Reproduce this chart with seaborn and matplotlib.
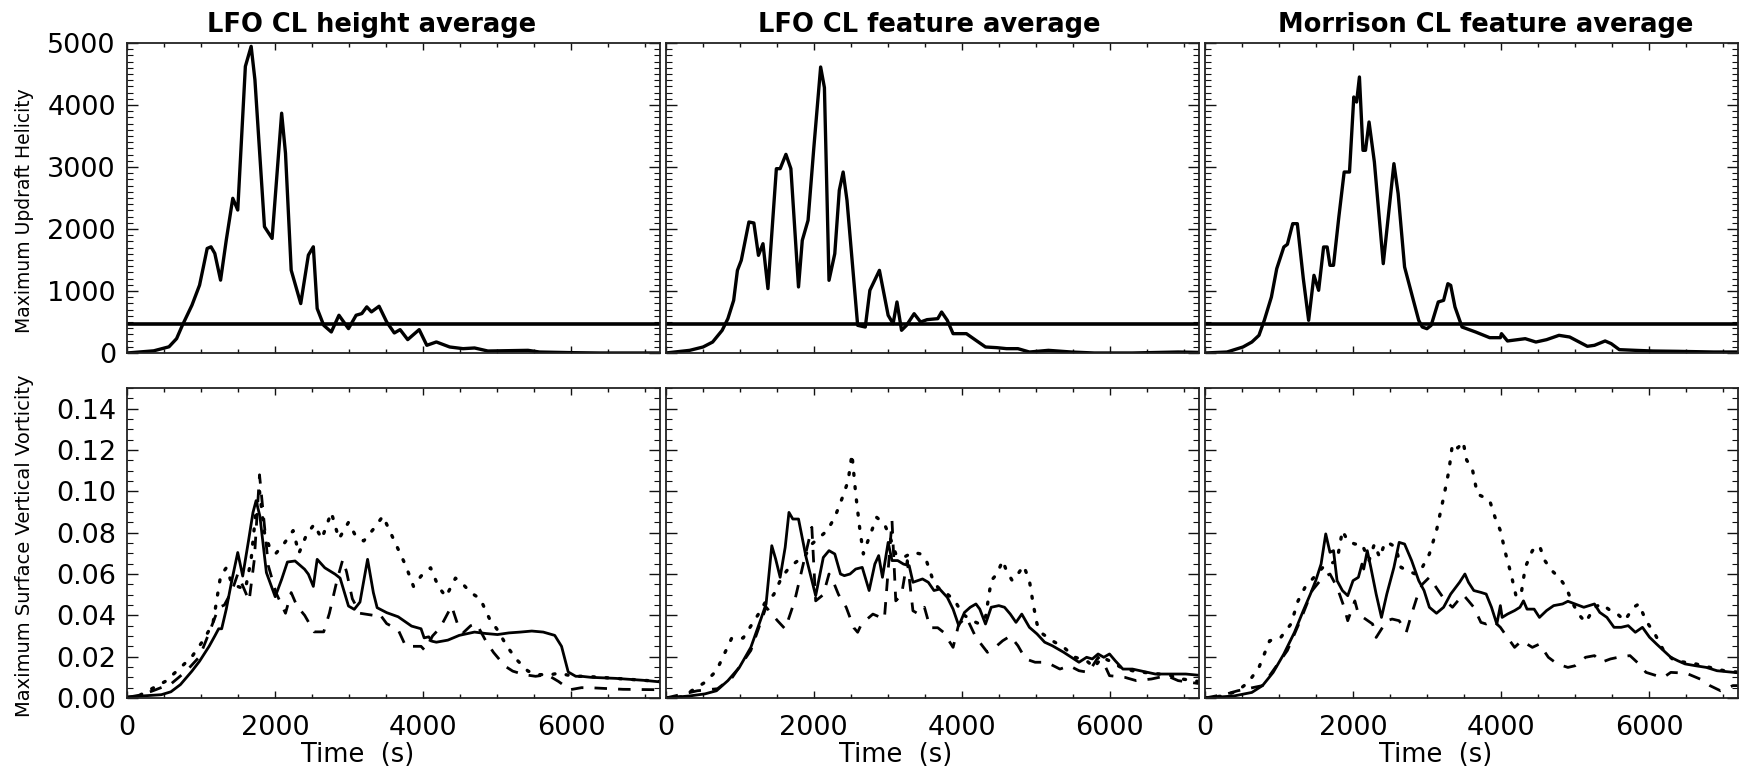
import matplotlib
matplotlib.use("Agg")
import matplotlib.pyplot as plt
from matplotlib.ticker import MultipleLocator, FormatStrFormatter
import seaborn as sns
import pandas as pd

# ---------------- data ----------------
titles = ["LFO CL height average", "LFO CL feature average", "Morrison CL feature average"]
ylabel_top = "Maximum Updraft Helicity"
ylabel_bot = "Maximum Surface Vertical Vorticity"
xlabel = "Time  (s)"
uh_threshold = 460

# Updraft helicity (top row)
uh1_t = [0, 361, 567, 670, 748, 877, 980, 1032, 1083, 1135, 1186, 1264, 1341, 1429, 1496, 1599, 1677, 1728,
         1857, 1960, 2089, 2141, 2218, 2347, 2450, 2517, 2569, 2657, 2760, 2863, 2992, 3095, 3172, 3239, 3302,
         3405, 3508, 3611, 3689, 3792, 3947, 4050, 4179, 4359, 4540, 4695, 4875, 5417, 5572, 6036, 6386, 7200]
uh1_v = [0, 35, 100, 232, 447, 770, 1094, 1390, 1686, 1713, 1606, 1175, 1821, 2495, 2306, 4623, 4946, 4407,
         2037, 1848, 3868, 3222, 1336, 797, 1579, 1713, 717, 447, 339, 609, 393, 609, 636, 744, 663,
         754, 501, 323, 377, 216, 377, 124, 178, 97, 70, 81, 32, 43, 16, 5, 0, 0]

uh2_t = [0, 325, 505, 634, 763, 840, 918, 969, 1021, 1124, 1191, 1253, 1314, 1381, 1495, 1546, 1624, 1691,
         1794, 1845, 1923, 2000, 2093, 2144, 2206, 2284, 2345, 2397, 2449, 2593, 2696, 2758, 2887, 3005, 3072,
         3124, 3186, 3253, 3356, 3443, 3531, 3675, 3727, 3804, 3882, 4062, 4191, 4320, 4474, 4603, 4758, 4913,
         5170, 5480, 5789, 6305, 6923, 7200]
uh2_v = [0, 43, 97, 177, 366, 554, 849, 1333, 1495, 2113, 2097, 1575, 1763, 1038, 2973, 2973, 3204, 2973,
         1065, 1817, 2140, 3296, 4613, 4280, 1172, 1602, 2624, 2919, 2462, 446, 419, 1011, 1333, 608, 473,
         823, 366, 446, 634, 500, 538, 554, 661, 527, 312, 312, 204, 97, 86, 70, 70, 16,
         43, 16, 0, 0, 16, 10]

uh3_t = [0, 297, 513, 633, 729, 801, 897, 969, 1065, 1113, 1185, 1247, 1328, 1400, 1472, 1535, 1602, 1650,
         1688, 1736, 1808, 1880, 1952, 2010, 2048, 2086, 2134, 2168, 2216, 2288, 2408, 2480, 2552, 2609, 2696,
         2815, 2887, 2935, 2998, 3055, 3151, 3223, 3281, 3319, 3377, 3472, 3655, 3846, 3990, 4005, 4086, 4326,
         4470, 4614, 4782, 4926, 5165, 5261, 5405, 5487, 5597, 5813, 6053, 6388, 6868, 7200]
uh3_v = [0, 16, 97, 177, 285, 527, 903, 1360, 1710, 1753, 2086, 2086, 1199, 527, 1253, 1011, 1710, 1710,
         1414, 1414, 2194, 2919, 2919, 4129, 4048, 4452, 3269, 3269, 3726, 3081, 1441, 2247, 3054, 2570, 1387,
         849, 527, 419, 392, 446, 823, 849, 1118, 1091, 742, 419, 339, 247, 247, 312, 194, 231,
         177, 215, 285, 258, 108, 124, 194, 151, 54, 43, 32, 27, 16, 16]

# Surface vertical vorticity (bottom row): solid, dotted, dashed series
v1s_t = [0, 464, 593, 722, 877, 980, 1109, 1186, 1238, 1279, 1341, 1419, 1496, 1563, 1641, 1702, 1744, 1795,
         1883, 2002, 2089, 2167, 2270, 2399, 2450, 2517, 2569, 2672, 2812, 2879, 2992, 3070, 3147, 3250, 3328,
         3379, 3508, 3663, 3844, 3972, 4014, 4076, 4117, 4179, 4334, 4488, 4694, 4849, 5004, 5159, 5314, 5468,
         5623, 5778, 5870, 5960, 6062, 6139, 6268, 6600, 7000, 7200]
v1s_v = [0.0005, 0.0016, 0.003, 0.0065, 0.013, 0.0178, 0.025, 0.030, 0.0335, 0.0335, 0.043, 0.0574, 0.0704,
         0.059, 0.076, 0.0898, 0.0955, 0.088, 0.0607, 0.049, 0.0574, 0.0658, 0.0663, 0.0623, 0.0599, 0.054,
         0.0671, 0.063, 0.0599, 0.058, 0.0445, 0.0429, 0.0464, 0.0671, 0.051, 0.0437, 0.0413, 0.0393, 0.0348,
         0.0335, 0.0291, 0.0296, 0.0275, 0.027, 0.028, 0.0303, 0.0319, 0.0312, 0.0307, 0.0315, 0.0319, 0.0324,
         0.0319, 0.0303, 0.025, 0.0126, 0.0105, 0.0105, 0.010, 0.0095, 0.0085, 0.0078]
v1d_t = [0, 155, 516, 697, 877, 1032, 1161, 1264, 1341, 1420, 1599, 1677, 1754, 1790, 1857, 1935, 2012, 2100,
         2244, 2322, 2425, 2528, 2631, 2760, 2863, 2992, 3095, 3198, 3328, 3457, 3560, 3663, 3766, 3870, 3972,
         4101, 4205, 4308, 4437, 4540, 4643, 4772, 4901, 5004, 5133, 5262, 5417, 5572, 5726, 5829, 6036, 6191,
         6600, 7200]
v1d_v = [0, 0.001, 0.008, 0.0138, 0.020, 0.028, 0.036, 0.059, 0.063, 0.055, 0.0526, 0.067, 0.095, 0.100,
         0.080, 0.072, 0.070, 0.0736, 0.081, 0.070, 0.079, 0.084, 0.077, 0.0898, 0.077, 0.085, 0.078, 0.076,
         0.0817, 0.088, 0.080, 0.072, 0.064, 0.054, 0.059, 0.063, 0.054, 0.049, 0.058, 0.055, 0.051, 0.048,
         0.038, 0.033, 0.025, 0.0186, 0.013, 0.0113, 0.0113, 0.012, 0.0105, 0.0105, 0.0095, 0.008]
v1a_t = [0, 206, 387, 600, 800, 980, 1109, 1238, 1315, 1420, 1496, 1650, 1720, 1790, 1909, 2012, 2141, 2218,
         2296, 2400, 2528, 2657, 2734, 2837, 2915, 2966, 3044, 3147, 3328, 3405, 3508, 3663, 3766, 3972, 4024,
         4127, 4230, 4385, 4463, 4540, 4643, 4720, 4849, 4952, 5107, 5211, 5365, 5520, 5675, 5829, 5984, 6139,
         6294, 6700, 7200]
v1a_v = [0.0003, 0.0016, 0.004, 0.007, 0.013, 0.020, 0.0315, 0.0437, 0.045, 0.052, 0.060, 0.047, 0.067, 0.108,
         0.064, 0.051, 0.041, 0.051, 0.0445, 0.040, 0.032, 0.032, 0.041, 0.057, 0.067, 0.061, 0.048, 0.041,
         0.040, 0.041, 0.036, 0.033, 0.025, 0.025, 0.023, 0.030, 0.034, 0.0445, 0.036, 0.0315, 0.035, 0.036,
         0.0275, 0.022, 0.0154, 0.013, 0.0113, 0.0105, 0.0113, 0.008, 0.004, 0.005, 0.0049, 0.0042, 0.004]

v2s_t = [0, 325, 531, 686, 840, 995, 1150, 1278, 1356, 1433, 1485, 1546, 1614, 1665, 1717, 1794, 1897, 1964,
         2026, 2129, 2206, 2284, 2361, 2413, 2490, 2567, 2655, 2748, 2825, 2877, 2928, 3005, 3057, 3134, 3212,
         3289, 3340, 3469, 3547, 3624, 3701, 3804, 3882, 3959, 4036, 4114, 4191, 4243, 4320, 4397, 4500, 4577,
         4655, 4732, 4810, 4913, 5016, 5119, 5222, 5377, 5480, 5583, 5686, 5763, 5841, 5918, 5995, 6073, 6176,
         6305, 6408, 6614, 6820, 7026, 7200]
v2s_v = [0, 0.001, 0.002, 0.0035, 0.0084, 0.0148, 0.0245, 0.0374, 0.0455, 0.0737, 0.0673, 0.0584, 0.0729,
         0.0898, 0.0866, 0.0866, 0.068, 0.0584, 0.0495, 0.068, 0.0713, 0.0697, 0.060, 0.0592, 0.060, 0.0624,
         0.0632, 0.052, 0.0648, 0.0689, 0.0584, 0.0753, 0.0665, 0.0665, 0.0648, 0.064, 0.056, 0.0576, 0.056,
         0.052, 0.0527, 0.0487, 0.043, 0.035, 0.0414, 0.0439, 0.0455, 0.043, 0.0358, 0.0439, 0.0447, 0.0439,
         0.0406, 0.0366, 0.0406, 0.0342, 0.031, 0.027, 0.0253, 0.0221, 0.0197, 0.0173, 0.0197, 0.0189, 0.0213,
         0.0197, 0.0213, 0.018, 0.014, 0.014, 0.0132, 0.0116, 0.0116, 0.0116, 0.011]
v2d_t = [0, 222, 531, 686, 892, 1046, 1253, 1356, 1459, 1562, 1665, 1768, 1871, 1974, 2077, 2181, 2284, 2387,
         2464, 2516, 2567, 2619, 2670, 2748, 2851, 2954, 3031, 3108, 3212, 3340, 3443, 3521, 3598, 3675, 3804,
         3907, 4011, 4139, 4243, 4320, 4397, 4474, 4552, 4603, 4681, 4758, 4835, 4913, 4964, 5016, 5093, 5222,
         5377, 5531, 5686, 5789, 5892, 5995, 6150, 6305, 6459, 6665, 6820, 6975, 7200]
v2d_v = [0, 0.0006, 0.0076, 0.0132, 0.029, 0.029, 0.0406, 0.047, 0.050, 0.058, 0.063, 0.066, 0.068, 0.0745,
         0.0777, 0.081, 0.0874, 0.097, 0.105, 0.118, 0.0987, 0.0826, 0.0697, 0.0777, 0.0874, 0.0842, 0.0777,
         0.0697, 0.068, 0.0705, 0.0697, 0.0665, 0.0584, 0.0536, 0.0503, 0.047, 0.0406, 0.0374, 0.0358, 0.039,
         0.0568, 0.060, 0.0665, 0.0616, 0.0568, 0.060, 0.064, 0.0568, 0.0455, 0.0358, 0.031, 0.0277, 0.0245,
         0.0197, 0.018, 0.0148, 0.0197, 0.018, 0.0148, 0.0132, 0.0124, 0.0116, 0.0108, 0.0092, 0.008]
v2a_t = [0, 428, 700, 900, 1150, 1356, 1510, 1614, 1742, 1974, 2026, 2129, 2206, 2258, 2335, 2438, 2541, 2593,
         2645, 2799, 2954, 3057, 3108, 3186, 3263, 3340, 3418, 3495, 3572, 3675, 3753, 3882, 3959, 4062, 4191,
         4346, 4449, 4552, 4655, 4758, 4861, 4990, 5145, 5325, 5454, 5583, 5712, 5841, 5944, 5995, 6201, 6356,
         6562, 6768, 6923, 7200]
v2a_v = [0, 0.0035, 0.0045, 0.010, 0.023, 0.044, 0.0374, 0.0334, 0.047, 0.0826, 0.047, 0.050, 0.060, 0.0568,
         0.050, 0.0439, 0.034, 0.0318, 0.0358, 0.0406, 0.0382, 0.0858, 0.047, 0.050, 0.0665, 0.0422, 0.0406,
         0.0439, 0.034, 0.034, 0.0318, 0.0245, 0.0358, 0.039, 0.0293, 0.0221, 0.0245, 0.0277, 0.030, 0.0253,
         0.0189, 0.0173, 0.0173, 0.014, 0.0156, 0.0132, 0.0124, 0.0197, 0.0148, 0.0108, 0.010, 0.0084, 0.0092,
         0.0108, 0.0084, 0.007]

v3s_t = [0, 393, 633, 777, 921, 1065, 1209, 1328, 1424, 1496, 1568, 1631, 1688, 1736, 1784, 1856, 1928, 2000,
         2072, 2120, 2144, 2192, 2240, 2312, 2384, 2456, 2552, 2623, 2696, 2791, 2887, 2959, 3031, 3127, 3223,
         3319, 3439, 3511, 3559, 3631, 3727, 3798, 3870, 3942, 3990, 4014, 4086, 4182, 4254, 4302, 4350, 4446,
         4518, 4614, 4710, 4830, 4902, 4998, 5117, 5189, 5261, 5333, 5429, 5525, 5621, 5717, 5813, 5909, 6005,
         6100, 6196, 6292, 6388, 6484, 6628, 6772, 6916, 7200]
v3s_v = [0, 0.001, 0.0027, 0.006, 0.0124, 0.0213, 0.0318, 0.0423, 0.0503, 0.0568, 0.0648, 0.0794, 0.0705,
         0.0713, 0.0568, 0.052, 0.0495, 0.0568, 0.0584, 0.0648, 0.0624, 0.0713, 0.0632, 0.0503, 0.039, 0.0503,
         0.0632, 0.0753, 0.0745, 0.0665, 0.0568, 0.052, 0.0439, 0.041, 0.0439, 0.0503, 0.056, 0.060, 0.056,
         0.052, 0.0511, 0.0503, 0.0439, 0.0358, 0.0447, 0.039, 0.0406, 0.0423, 0.0439, 0.047, 0.043, 0.043,
         0.039, 0.0423, 0.0447, 0.0455, 0.0468, 0.0455, 0.0439, 0.0447, 0.0455, 0.0414, 0.039, 0.0342, 0.0342,
         0.035, 0.0318, 0.0342, 0.0294, 0.0261, 0.0229, 0.0197, 0.018, 0.0165, 0.0156, 0.0148, 0.0132, 0.0122]
v3d_t = [0, 249, 441, 585, 729, 873, 1017, 1161, 1257, 1352, 1472, 1592, 1784, 1856, 1928, 2024, 2120, 2216,
         2288, 2360, 2432, 2504, 2576, 2648, 2743, 2839, 2935, 3031, 3127, 3223, 3295, 3343, 3415, 3487, 3535,
         3607, 3679, 3775, 3846, 3918, 3990, 4062, 4134, 4206, 4278, 4326, 4422, 4518, 4590, 4686, 4782, 4878,
         4950, 5045, 5141, 5261, 5357, 5477, 5573, 5669, 5789, 5861, 5957, 6077, 6196, 6340, 6484, 6628, 6820,
         7012, 7200]
v3d_v = [0, 0.001, 0.0035, 0.0076, 0.0148, 0.0277, 0.029, 0.0358, 0.047, 0.0536, 0.0584, 0.0632, 0.0665,
         0.081, 0.076, 0.0745, 0.0745, 0.0665, 0.0745, 0.068, 0.0753, 0.0745, 0.073, 0.0632, 0.0616, 0.060,
         0.0632, 0.0697, 0.081, 0.097, 0.110, 0.123, 0.121, 0.124, 0.115, 0.1116, 0.0987, 0.097, 0.0955,
         0.0874, 0.081, 0.0697, 0.060, 0.0487, 0.052, 0.0632, 0.0713, 0.0737, 0.0665, 0.0616, 0.0584, 0.0536,
         0.047, 0.0406, 0.0366, 0.0439, 0.0455, 0.0423, 0.0406, 0.0374, 0.0439, 0.0455, 0.0374, 0.031, 0.0229,
         0.018, 0.0173, 0.0165, 0.0148, 0.0132, 0.0125]
v3a_t = [0, 297, 441, 777, 1113, 1305, 1448, 1592, 1688, 1784, 1880, 1928, 2024, 2072, 2264, 2312, 2456, 2528,
         2623, 2719, 2791, 2863, 2935, 3031, 3151, 3247, 3343, 3415, 3487, 3559, 3631, 3727, 3798, 3894, 3990,
         4086, 4182, 4278, 4350, 4422, 4518, 4638, 4758, 4902, 4998, 5141, 5261, 5357, 5477, 5621, 5741, 5861,
         5957, 6100, 6196, 6292, 6500, 6700, 6820, 6964, 7132, 7200]
v3a_v = [0, 0.002, 0.0035, 0.006, 0.023, 0.039, 0.052, 0.0584, 0.060, 0.0536, 0.0439, 0.0374, 0.047, 0.0406,
         0.0358, 0.0293, 0.0374, 0.0382, 0.0374, 0.0318, 0.0406, 0.0487, 0.055, 0.0584, 0.052, 0.047, 0.0439,
         0.047, 0.050, 0.047, 0.0439, 0.0366, 0.0358, 0.0374, 0.0342, 0.0293, 0.0245, 0.0277, 0.0261, 0.0245,
         0.0261, 0.0197, 0.0165, 0.0148, 0.0156, 0.0197, 0.0205, 0.0173, 0.0189, 0.020, 0.0205, 0.0165, 0.0124,
         0.0108, 0.010, 0.0124, 0.0120, 0.0090, 0.006, 0.0035, 0.006, 0.006]

uh_series = [(uh1_t, uh1_v), (uh2_t, uh2_v), (uh3_t, uh3_v)]
vort_series = [
    [(v1s_t, v1s_v), (v1d_t, v1d_v), (v1a_t, v1a_v)],
    [(v2s_t, v2s_v), (v2d_t, v2d_v), (v2a_t, v2a_v)],
    [(v3s_t, v3s_v), (v3d_t, v3d_v), (v3a_t, v3a_v)],
]
x_ticks = [0, 2000, 4000, 6000]
uh_ticks = [0, 1000, 2000, 3000, 4000, 5000]
vort_ticks = [0.00, 0.02, 0.04, 0.06, 0.08, 0.10, 0.12, 0.14]

# ---------------- style ----------------
sns.set_theme(style="ticks")
plt.rcParams["font.family"] = ["DejaVu Sans"]
plt.rcParams["axes.edgecolor"] = "#222222"
plt.rcParams["axes.linewidth"] = 1.3
plt.rcParams["text.color"] = "black"
plt.rcParams["axes.labelcolor"] = "black"
plt.rcParams["axes.titlecolor"] = "black"
plt.rcParams["xtick.labelcolor"] = "black"
plt.rcParams["ytick.labelcolor"] = "black"

W, H = 1739, 776
fig = plt.figure(figsize=(W / 100, H / 100), dpi=100)

lefts = [127, 665.7, 1205]
pw = 533
top_row = (43, 353)
bot_row = (388, 698)
title_x = [0.459, 0.495, 0.526]
xlabel_x = 0.432

def make_ax(xl, row):
    y0, y1 = row
    return fig.add_axes([xl / W, 1 - y1 / H, pw / W, (y1 - y0) / H])

styles = [
    dict(linestyle="-", lw=2.0),
    dict(linestyle=(0, (0.6, 3.4)), lw=2.4, dash_capstyle="round"),
    dict(linestyle=(0, (4.5, 4.0)), lw=2.0),
]

def style_axis(ax, ymajor, yminor):
    ax.set_xlim(0, 7200)
    ax.xaxis.set_major_locator(MultipleLocator(2000))
    ax.xaxis.set_minor_locator(MultipleLocator(500))
    ax.yaxis.set_major_locator(MultipleLocator(ymajor))
    ax.yaxis.set_minor_locator(MultipleLocator(yminor))
    ax.tick_params(axis="both", which="both", direction="in", top=True, right=True,
                   color="#111111", labelcolor="black", width=1.0)
    ax.tick_params(axis="x", which="major", length=5, pad=12, labelsize=19.5)
    ax.tick_params(axis="x", which="minor", length=3)
    ax.tick_params(axis="y", which="major", length=8, pad=8, labelsize=19.5)
    ax.tick_params(axis="y", which="minor", length=4, width=0.8)
    for s in ax.spines.values():
        s.set_visible(True)
    ax.set_xlabel("")
    ax.set_ylabel("")

for i in range(3):
    # top row
    ax = make_ax(lefts[i], top_row)
    t, v = uh_series[i]
    sns.lineplot(x=t, y=v, ax=ax, color="black", lw=2.4, estimator=None, sort=False)
    ax.axhline(uh_threshold, color="black", lw=2.6)
    ax.set_ylim(0, 5000)
    style_axis(ax, 1000, 100)
    ax.set_yticks(uh_ticks)
    ax.set_xticks(x_ticks)
    ax.tick_params(axis="x", labelbottom=False)
    if i > 0:
        ax.tick_params(axis="y", labelleft=False)
    ax.set_title(titles[i], fontsize=18.5, fontweight="bold", pad=8, x=title_x[i], color="black")

    # bottom row
    axb = make_ax(lefts[i], bot_row)
    for (tt, vv), st in zip(vort_series[i], styles):
        sns.lineplot(x=tt, y=vv, ax=axb, color="black", estimator=None, sort=False, **st)
    axb.set_ylim(0, 0.15)
    style_axis(axb, 0.02, 0.005)
    axb.set_yticks(vort_ticks)
    axb.yaxis.set_major_formatter(FormatStrFormatter("%.2f"))
    axb.set_xticks(x_ticks)
    axb.set_xticklabels([str(x) for x in x_ticks])
    if i > 0:
        axb.tick_params(axis="y", labelleft=False)
    axb.set_xlabel(xlabel, fontsize=18.5, labelpad=1, x=xlabel_x, ha="center", color="black")

fig.text(25 / W, 1 - 211 / H, ylabel_top, rotation=90, ha="center", va="center", fontsize=13.5,
         color="black")
fig.text(25 / W, 1 - 546 / H, ylabel_bot, rotation=90, ha="center", va="center", fontsize=14,
         color="black")

fig.savefig("out.png", dpi=100, facecolor="white")
